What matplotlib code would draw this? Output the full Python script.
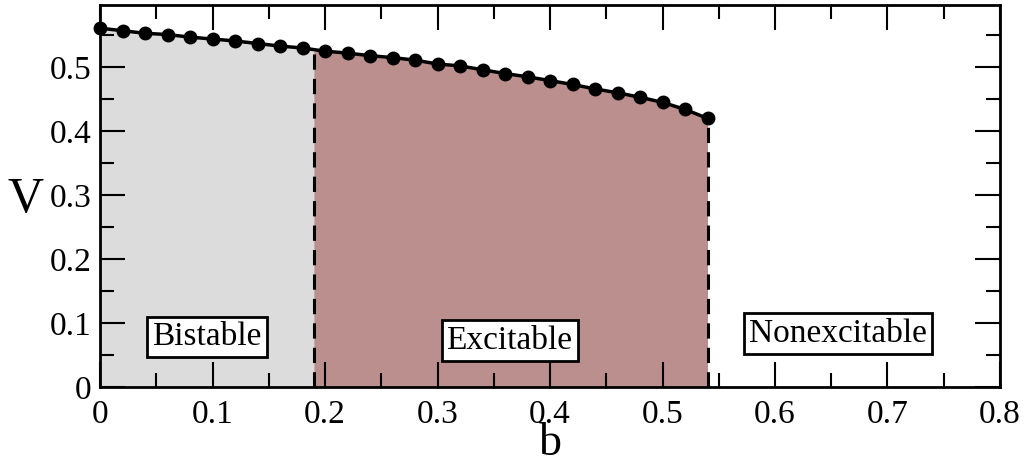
import numpy as np
import matplotlib.pyplot as plt
from matplotlib.ticker import MultipleLocator

plt.rcParams['font.family'] = ['Liberation Serif', 'DejaVu Serif']

# curve values
b = [0.00, 0.02, 0.04, 0.06, 0.08, 0.10, 0.12, 0.14, 0.16, 0.18,
     0.20, 0.22, 0.24, 0.26, 0.28, 0.30, 0.32, 0.34, 0.36, 0.38,
     0.40, 0.42, 0.44, 0.46, 0.48, 0.50, 0.52, 0.54]
V = [0.561, 0.557, 0.553, 0.551, 0.547, 0.544, 0.541, 0.537, 0.533, 0.530,
     0.525, 0.522, 0.518, 0.515, 0.511, 0.505, 0.502, 0.496, 0.490, 0.485,
     0.479, 0.473, 0.466, 0.460, 0.453, 0.445, 0.434, 0.420]
b_split = 0.19
b_end = 0.54
labels = ['Bistable', 'Excitable', 'Nonexcitable']
label_pos = [(0.095, 0.078), (0.364, 0.073), (0.656, 0.084)]

b = np.array(b)
V = np.array(V)
v_split = np.interp(b_split, b, V)

fig = plt.figure(figsize=(10.25, 4.67), dpi=100)
ax = fig.add_axes([0.0976, 0.1713, 0.878, 0.8177])

# shaded regions under the curve
m1 = b <= b_split
bx1 = np.append(b[m1], b_split)
vy1 = np.append(V[m1], v_split)
ax.fill_between(bx1, 0, vy1, color='#dcdcdc', lw=0)
m2 = b >= b_split
bx2 = np.insert(b[m2], 0, b_split)
vy2 = np.insert(V[m2], 0, v_split)
ax.fill_between(bx2, 0, vy2, color='#bc8f8f', lw=0)

ax.plot([b_split, b_split], [0, v_split], 'k--', lw=2.2, dashes=(5, 3))
ax.plot([b_end, b_end], [0, V[-1]], 'k--', lw=2.2, dashes=(5, 3))
ax.plot(b, V, 'k-', lw=2.5, marker='o', ms=9, zorder=5, clip_on=False)

for txt, (x, y) in zip(labels, label_pos):
    ax.text(x, y, txt, fontsize=24, ha='center', va='center',
            bbox=dict(boxstyle='square,pad=0.15', fc='white', ec='black', lw=2))

ax.set_xlim(0, 0.8)
ax.set_ylim(0, 0.597)
ax.xaxis.set_minor_locator(MultipleLocator(0.05))
ax.yaxis.set_minor_locator(MultipleLocator(0.05))
ax.set_xticks([0, 0.1, 0.2, 0.3, 0.4, 0.5, 0.6, 0.7, 0.8])
ax.set_xticklabels(['0', '0.1', '0.2', '0.3', '0.4', '0.5', '0.6', '0.7', '0.8'])
ax.set_yticks([0, 0.1, 0.2, 0.3, 0.4, 0.5])
ax.set_yticklabels(['0', '0.1', '0.2', '0.3', '0.4', '0.5'])
ax.tick_params(which='both', direction='in', top=True, right=True, labelsize=24, width=1.5)
ax.tick_params(which='major', length=18)
ax.tick_params(which='minor', length=10)
ax.tick_params(axis='x', pad=9)
ax.tick_params(axis='y', pad=6)
for s in ax.spines.values():
    s.set_linewidth(2)

ax.set_xlabel('b', fontsize=33, va='baseline')
ax.xaxis.set_label_coords(0.5, -0.178)
ax.set_ylabel('V', fontsize=36, rotation=0, va='center')
ax.yaxis.set_label_coords(-0.083, 0.49)

fig.savefig('out.png', dpi=100)
